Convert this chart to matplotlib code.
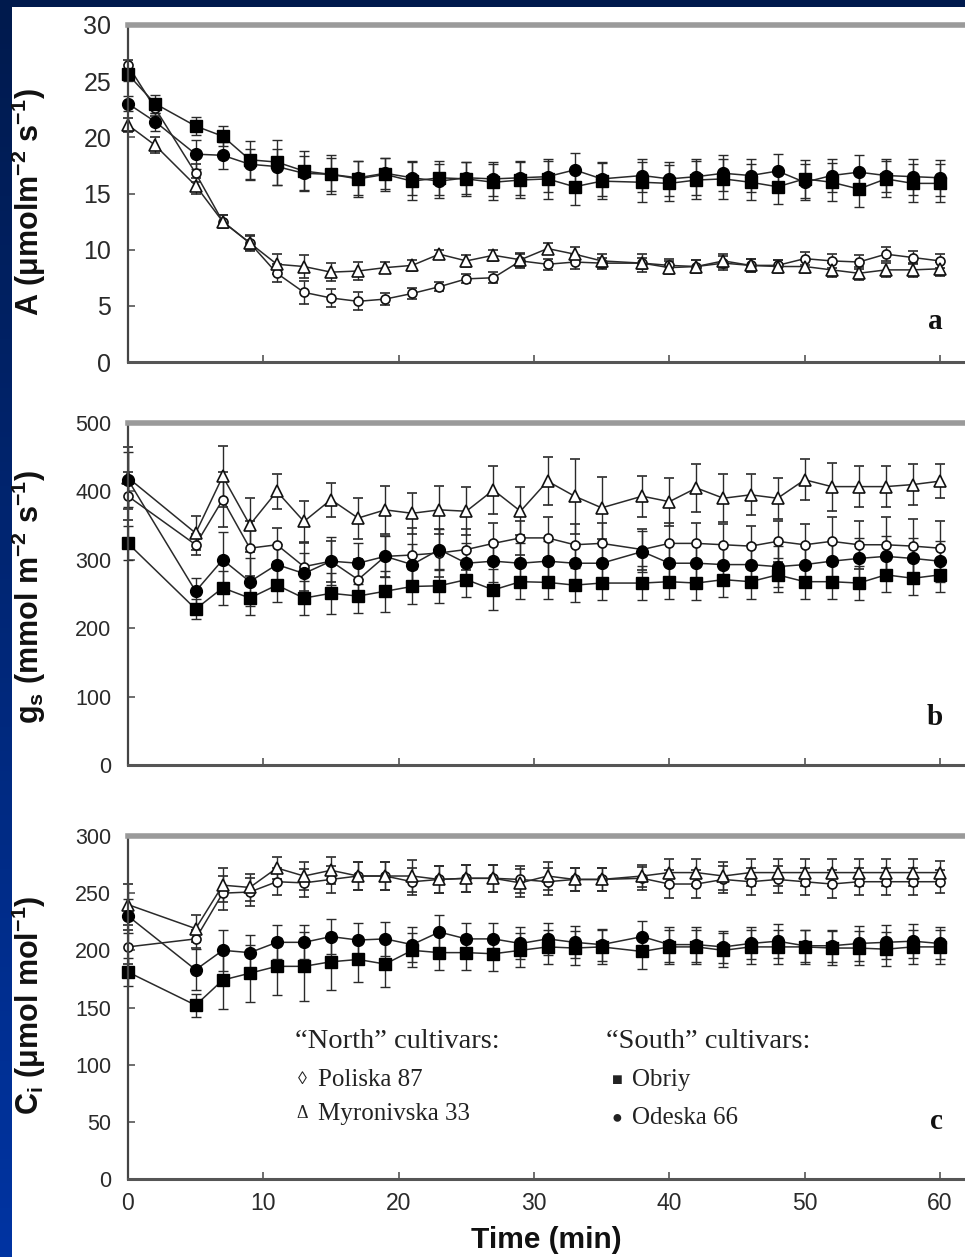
import numpy as np
import matplotlib
matplotlib.use("Agg")
import matplotlib.pyplot as plt
from matplotlib.patches import Rectangle

plt.rcParams["mathtext.fontset"] = "custom"
plt.rcParams["mathtext.rm"] = "Liberation Sans:bold"
plt.rcParams["mathtext.it"] = "Liberation Sans:bold"
plt.rcParams["mathtext.bf"] = "Liberation Sans:bold"

# ---------------- data ----------------
times_a = [0, 2, 5, 7, 9, 11, 13, 15, 17, 19, 21, 23, 25, 27, 29, 31, 33, 35, 38, 40,
           42, 44, 46, 48, 50, 52, 54, 56, 58, 60]
times_bc = [0, 5, 7, 9, 11, 13, 15, 17, 19, 21, 23, 25, 27, 29, 31, 33, 35, 38, 40,
            42, 44, 46, 48, 50, 52, 54, 56, 58, 60]

cultivars = ["Poliska 87", "Myronivska 33", "Obriy", "Odeska 66"]

# Panel a: net photosynthesis A
a_poliska = [26.4, 22.6, 16.8, 12.5, 10.6, 7.9, 6.2, 5.7, 5.4, 5.6, 6.1, 6.7, 7.4, 7.5, 9.0,
             8.7, 8.9, 8.8, 8.8, 8.6, 8.5, 8.8, 8.6, 8.6, 9.2, 9.0, 8.9, 9.6, 9.3, 9.0]
a_myronivska = [21.1, 19.3, 15.7, 12.5, 10.6, 8.7, 8.5, 8.0, 8.1, 8.4, 8.6, 9.6, 9.0, 9.5, 9.1,
                10.1, 9.6, 9.0, 8.8, 8.4, 8.5, 9.0, 8.6, 8.5, 8.5, 8.2, 7.9, 8.2, 8.2, 8.3]
a_obriy = [25.6, 23.0, 21.0, 20.1, 18.0, 17.8, 17.0, 16.7, 16.3, 16.7, 16.1, 16.4, 16.3, 16.0, 16.2,
           16.3, 15.6, 16.1, 16.0, 15.9, 16.2, 16.3, 16.0, 15.6, 16.3, 16.0, 15.4, 16.3, 15.9, 15.9]
a_odeska = [23.0, 21.4, 18.5, 18.4, 17.6, 17.4, 16.8, 16.7, 16.4, 16.8, 16.4, 16.1, 16.4, 16.3, 16.4,
            16.5, 17.1, 16.3, 16.6, 16.3, 16.5, 16.8, 16.6, 17.0, 16.0, 16.6, 16.9, 16.6, 16.5, 16.4]
a_poliska_err = [0.5, 0.7, 0.8, 0.6, 0.6, 0.8, 1.0, 0.8, 0.8, 0.5, 0.5, 0.4, 0.4, 0.5, 0.6,
                 0.5, 0.6, 0.5, 0.8, 0.6, 0.6, 0.6, 0.6, 0.5, 0.6, 0.6, 0.6, 0.6, 0.6, 0.6]
a_myronivska_err = [0.6, 0.7, 0.7, 0.6, 0.7, 0.9, 1.0, 0.8, 0.8, 0.5, 0.5, 0.4, 0.5, 0.5, 0.6,
                    0.5, 0.6, 0.6, 0.5, 0.6, 0.6, 0.6, 0.6, 0.6, 0.6, 0.6, 0.6, 0.6, 0.6, 0.6]
a_obriy_err = [0.6, 0.8, 0.8, 0.9, 1.7, 2.0, 1.8, 1.7, 1.6, 1.5, 1.7, 1.5, 1.5, 1.6, 1.6,
               1.8, 1.6, 1.6, 1.8, 1.6, 1.7, 1.8, 1.6, 1.5, 1.7, 1.7, 1.6, 1.6, 1.7, 1.7]
a_odeska_err = [0.7, 0.8, 1.3, 1.2, 1.4, 1.6, 1.5, 1.5, 1.5, 1.4, 1.5, 1.5, 1.4, 1.5, 1.5,
                1.4, 1.5, 1.5, 1.5, 1.5, 1.6, 1.6, 1.5, 1.5, 1.6, 1.5, 1.5, 1.5, 1.6, 1.6]

# Panel b: stomatal conductance gs
b_poliska = [393, 322, 388, 317, 322, 290, 298, 271, 305, 307, 310, 315, 324, 332, 332,
             322, 324, 315, 324, 324, 322, 320, 327, 322, 327, 322, 322, 320, 317]
b_myronivska = [420, 339, 422, 351, 400, 356, 388, 361, 373, 368, 373, 371, 402, 371, 415,
                393, 376, 393, 385, 405, 390, 395, 390, 417, 407, 407, 407, 410, 415]
b_obriy = [324, 228, 259, 244, 263, 244, 251, 247, 254, 261, 262, 271, 256, 268, 267,
           263, 266, 266, 268, 266, 271, 268, 278, 268, 268, 266, 278, 273, 278]
b_odeska = [417, 254, 300, 268, 293, 280, 298, 295, 305, 293, 315, 295, 298, 295, 298,
            295, 295, 312, 295, 295, 293, 293, 290, 293, 298, 302, 305, 302, 298]
b_poliska_err = [35, 15, 40, 40, 25, 35, 30, 30, 30, 40, 35, 30, 30, 25, 30,
                 30, 30, 30, 30, 30, 30, 30, 30, 30, 35, 35, 40, 40, 40]
b_myronivska_err = [45, 25, 45, 40, 25, 30, 25, 30, 35, 30, 35, 35, 35, 35, 35,
                    55, 45, 30, 35, 35, 35, 30, 30, 30, 35, 30, 30, 30, 25]
b_obriy_err = [25, 15, 25, 25, 25, 25, 30, 25, 30, 25, 25, 25, 30, 25, 25,
               25, 25, 25, 25, 25, 25, 25, 25, 25, 25, 25, 25, 25, 25]
b_odeska_err = [40, 20, 40, 35, 30, 30, 35, 30, 30, 30, 30, 30, 30, 30, 30,
                30, 30, 30, 30, 30, 30, 30, 30, 30, 30, 30, 30, 30, 30]

# Panel c: intercellular CO2 Ci
c_poliska = [203, 210, 250, 251, 260, 259, 262, 265, 265, 260, 262, 263, 263, 262, 260,
             262, 262, 263, 258, 258, 262, 260, 262, 260, 258, 260, 260, 260, 260]
c_myronivska = [240, 219, 257, 255, 272, 265, 270, 265, 265, 265, 262, 263, 263, 259, 265,
                262, 262, 265, 268, 268, 265, 268, 268, 268, 268, 268, 268, 268, 268]
c_obriy = [181, 152, 174, 180, 186, 186, 190, 192, 188, 200, 198, 198, 197, 200, 203,
           202, 203, 199, 203, 203, 200, 203, 203, 203, 202, 202, 201, 203, 203]
c_odeska = [230, 183, 200, 198, 207, 207, 212, 209, 210, 205, 216, 210, 210, 206, 210,
            207, 205, 212, 205, 205, 203, 206, 208, 204, 204, 206, 207, 208, 206]
c_poliska_err = [15, 8, 15, 12, 12, 12, 12, 12, 12, 12, 12, 12, 12, 12, 12,
                 10, 10, 10, 12, 12, 12, 12, 12, 12, 12, 12, 12, 12, 10]
c_myronivska_err = [18, 12, 15, 12, 10, 12, 12, 12, 12, 14, 12, 12, 12, 12, 12,
                    10, 10, 10, 12, 12, 12, 12, 12, 12, 12, 12, 12, 12, 10]
c_obriy_err = [12, 10, 25, 25, 25, 30, 25, 20, 20, 15, 15, 15, 15, 15, 15,
               15, 15, 15, 15, 15, 15, 15, 15, 15, 15, 15, 15, 15, 15]
c_odeska_err = [15, 18, 18, 15, 15, 15, 15, 15, 15, 15, 15, 14, 14, 14, 14,
                14, 14, 14, 15, 15, 14, 14, 15, 14, 14, 15, 15, 15, 14]

a_yticks = [0, 5, 10, 15, 20, 25, 30]
b_yticks = [0, 100, 200, 300, 400, 500]
c_yticks = [0, 50, 100, 150, 200, 250, 300]
x_ticks = [0, 10, 20, 30, 40, 50, 60]

# ---------------- figure ----------------
W, H = 965, 1257
fig = plt.figure(figsize=(W / 100, H / 100), dpi=100)

# blue gradient frame
bg = fig.add_axes([0, 0, 1, 1], zorder=-10)
grad = np.linspace(0, 1, 256).reshape(-1, 1)
top_c = np.array([0, 26, 77]) / 255
bot_c = np.array([0, 52, 162]) / 255
img = top_c[None, None, :] * (1 - grad[:, :, None]) + bot_c[None, None, :] * grad[:, :, None]
bg.imshow(img, aspect="auto", extent=[0, 1, 0, 1], origin="upper")
bg.add_patch(Rectangle((12 / W, 0), 1 - 12 / W, 1 - 7 / H, facecolor="white",
                       edgecolor="none"))
bg.set_xlim(0, 1)
bg.set_ylim(0, 1)
bg.axis("off")

SANS = ["Liberation Sans", "DejaVu Sans"]
SERIF = ["Liberation Serif", "DejaVu Serif"]

x_left = 128 / W
x_right_val = 60 * (W - 128) / (940 - 128)


def make_axes(top_px, bot_px):
    return fig.add_axes([x_left, 1 - bot_px / H, 1 - x_left, (bot_px - top_px) / H])


styles = {
    "Poliska 87": dict(marker="o", ms=6.5, mfc="white", mec="#111111", mew=1.2),
    "Myronivska 33": dict(marker="^", ms=8, mfc="white", mec="#111111", mew=1.2),
    "Obriy": dict(marker="s", ms=8.5, mfc="black", mec="black", mew=1.0),
    "Odeska 66": dict(marker="o", ms=8.5, mfc="black", mec="black", mew=1.0),
}

panels = [
    (25, 362, times_a, [a_poliska, a_myronivska, a_obriy, a_odeska],
     [a_poliska_err, a_myronivska_err, a_obriy_err, a_odeska_err], (0, 30), a_yticks,
     "a", 3.6, 18),
    (423, 765, times_bc, [b_poliska, b_myronivska, b_obriy, b_odeska],
     [b_poliska_err, b_myronivska_err, b_obriy_err, b_odeska_err], (0, 500), b_yticks,
     "b", 70, 15.5),
    (836, 1179, times_bc, [c_poliska, c_myronivska, c_obriy, c_odeska],
     [c_poliska_err, c_myronivska_err, c_obriy_err, c_odeska_err], (0, 300), c_yticks,
     "c", 50, 15.5),
]

axes = []
for top_px, bot_px, tt, series, errs, ylim, yticks, letter, ly, yfs in panels:
    ax = make_axes(top_px, bot_px)
    ax.set_facecolor("none")
    for name, vals, err in zip(cultivars, series, errs):
        st = styles[name]
        ax.errorbar(tt, vals, yerr=err, color="#2a2a2a", lw=1.1, elinewidth=1.0,
                    capsize=3.5, capthick=1.0, ecolor="#2a2a2a", clip_on=False,
                    **st)
    ax.set_xlim(0, x_right_val)
    ax.set_ylim(*ylim)
    ax.set_yticks(yticks)
    ax.set_xticks(x_ticks)
    ax.tick_params(direction="in", length=5, width=1.2, colors="#555555",
                   labelcolor="#2a2a2a")
    ax.tick_params(axis="y", labelsize=yfs, pad=12)
    ax.tick_params(axis="x", labelsize=16.5, pad=9)
    for lab in ax.get_yticklabels():
        lab.set_family(SANS)
    ax.spines["right"].set_visible(False)
    ax.spines["top"].set_color("#9a9a9a")
    ax.spines["top"].set_linewidth(4)
    ax.spines["left"].set_color("#444444")
    ax.spines["left"].set_linewidth(1.6)
    ax.spines["bottom"].set_color("#555555")
    ax.spines["bottom"].set_linewidth(2.2)
    ax.text(60.2, ly, letter, ha="right", va="center", fontsize=21,
            fontweight="bold", family=SERIF, color="#111111")
    axes.append(ax)

axes[0].tick_params(labelbottom=False)
axes[1].tick_params(labelbottom=False)
for lab in axes[2].get_xticklabels():
    lab.set_family(SANS)
axes[2].set_xlabel("Time (min)", fontsize=21.5, fontweight="bold", family=SANS,
                   color="#111111", labelpad=8)

# y labels
ylab_fs = 22
fig.text(29 / W, 1 - 202 / H, r"A ($\mathbf{\mu}$molm$^{\mathbf{-2}}$ s$^{\mathbf{-1}}$)",
         rotation=90, ha="center", va="center", fontsize=ylab_fs, fontweight="bold",
         family=SANS, color="#111111")
fig.text(29 / W, 1 - 597 / H, r"g$_{\mathbf{s}}$ (mmol m$^{\mathbf{-2}}$ s$^{\mathbf{-1}}$)",
         rotation=90, ha="center", va="center", fontsize=ylab_fs, fontweight="bold",
         family=SANS, color="#111111")
fig.text(29 / W, 1 - 1005 / H, r"C$_{\mathbf{i}}$ ($\mathbf{\mu}$mol mol$^{\mathbf{-1}}$)",
         rotation=90, ha="center", va="center", fontsize=ylab_fs, fontweight="bold",
         family=SANS, color="#111111")


# legend as text
def fx(px):
    return px / W


def fy(py):
    return 1 - py / H


head_fs = 20.5
item_fs = 18
sym_fs = 13
tc = "#222222"
fig.text(fx(295), fy(1042), "\u201cNorth\u201d cultivars:", fontsize=head_fs, family=SERIF,
         va="center", ha="left", color=tc)
fig.text(fx(606), fy(1042), "\u201cSouth\u201d cultivars:", fontsize=head_fs, family=SERIF,
         va="center", ha="left", color=tc)
legend_rows = [
    (302, 1080, "\u25ca", 318, "Poliska 87"),
    (302, 1114, "\u0394", 318, "Myronivska 33"),
    (617, 1080, "\u25a0", 632, "Obriy"),
    (617, 1118, "\u25cf", 632, "Odeska 66"),
]
for sx, sy, sym, tx, label in legend_rows:
    fig.text(fx(sx), fy(sy), sym, fontsize=sym_fs, family=SERIF, va="center",
             ha="center", color=tc)
    fig.text(fx(tx), fy(sy), label, fontsize=item_fs, family=SERIF, va="center",
             ha="left", color=tc)

fig.savefig("out.png", dpi=100)
